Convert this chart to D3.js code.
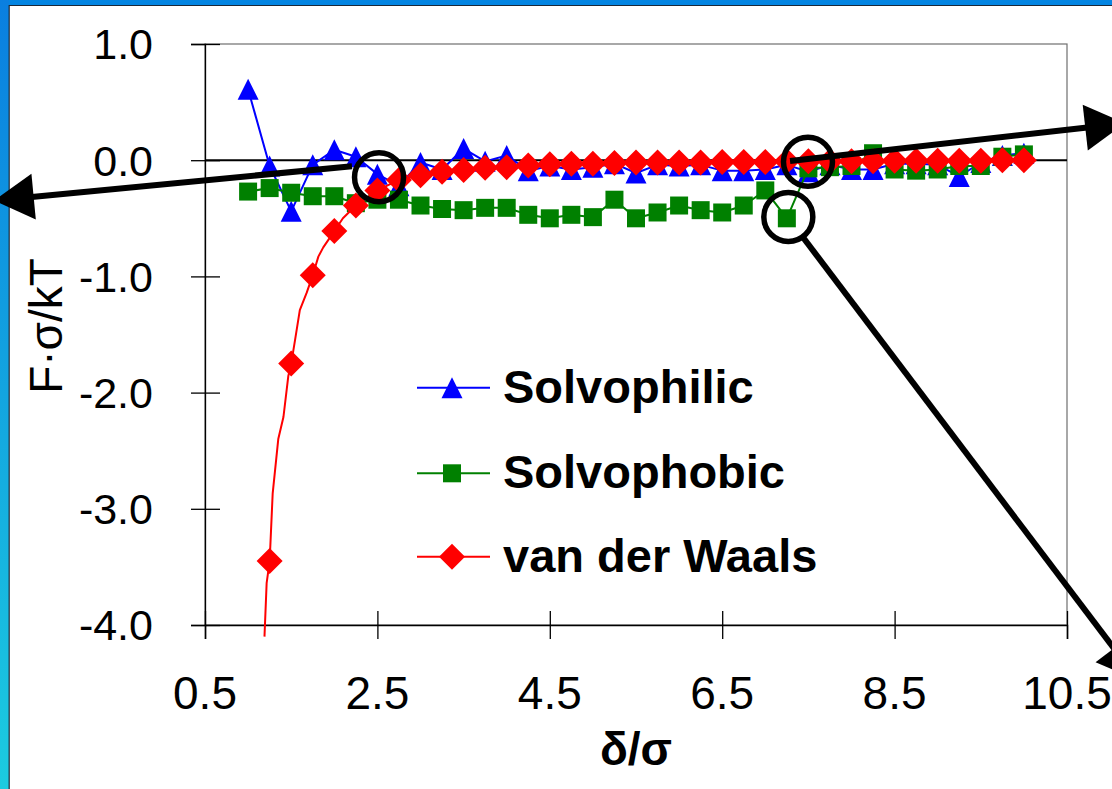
<!DOCTYPE html>
<html><head><meta charset="utf-8">
<script src="https://cdn.jsdelivr.net/npm/d3@7"></script>
<style>html,body{margin:0;padding:0;background:#fff;overflow:hidden} svg{display:block}</style>
</head><body><svg id="c" width="1112" height="789"></svg>
<script>
// ---- data ----
const xTicks = [0.5, 2.5, 4.5, 6.5, 8.5, 10.5];
const yTicks = [1.0, 0.0, -1.0, -2.0, -3.0, -4.0];
const seriesNames = ["Solvophilic", "Solvophobic", "van der Waals"];
const seriesColors = ["#0000ff", "#008000", "#ff0000"];

const philX = [1.0,1.25,1.5,1.75,2.0,2.25,2.5,2.75,3.0,3.25,3.5,3.75,4.0,4.25,4.5,4.75,5.0,5.25,5.5,5.75,6.0,6.25,6.5,6.75,7.0,7.25,7.5,7.75,8.0,8.25,8.5,8.75,9.0,9.25,9.5,9.75,10.0];
const philY = [0.61,-0.05,-0.44,-0.04,0.09,0.03,-0.12,-0.22,-0.02,-0.08,0.10,-0.01,0.04,-0.09,-0.05,-0.08,-0.06,-0.03,-0.11,-0.04,-0.05,-0.04,-0.09,-0.09,-0.08,-0.04,-0.10,-0.04,-0.08,-0.08,-0.03,-0.03,-0.04,-0.14,-0.02,0.04,0.06];

const phobX = [1.0,1.25,1.5,1.75,2.0,2.25,2.5,2.75,3.0,3.25,3.5,3.75,4.0,4.25,4.5,4.75,5.0,5.25,5.5,5.75,6.0,6.25,6.5,6.75,7.0,7.25,7.5,7.75,8.0,8.25,8.5,8.75,9.0,9.25,9.5,9.75,10.0];
const phobY = [-0.27,-0.24,-0.28,-0.31,-0.31,-0.37,-0.34,-0.34,-0.39,-0.42,-0.43,-0.41,-0.41,-0.47,-0.50,-0.47,-0.49,-0.34,-0.50,-0.45,-0.39,-0.43,-0.45,-0.39,-0.26,-0.50,-0.07,-0.06,-0.05,0.06,-0.08,-0.09,-0.08,-0.05,-0.05,0.03,0.05];

const vdwX = [1.25,1.5,1.75,2.0,2.25,2.5,2.75,3.0,3.25,3.5,3.75,4.0,4.25,4.5,4.75,5.0,5.25,5.5,5.75,6.0,6.25,6.5,6.75,7.0,7.25,7.5,7.75,8.0,8.25,8.5,8.75,9.0,9.25,9.5,9.75,10.0];
const vdwY = [-3.45,-1.75,-0.99,-0.61,-0.39,-0.26,-0.17,-0.13,-0.10,-0.085,-0.065,-0.06,-0.045,-0.035,-0.03,-0.03,-0.025,-0.02,-0.02,-0.02,-0.02,-0.015,-0.015,-0.015,-0.01,-0.01,-0.01,-0.01,-0.01,-0.005,-0.005,-0.005,-0.005,-0.005,0.0,0.0];
// finer curve drawn under the van der Waals markers
const vdwLineX = [1.19,1.215,1.25,1.285,1.35,1.41,1.466,1.5,1.544,1.60,1.68,1.75,1.815,1.872,2.0,2.1,2.25,2.5,2.75,3.0,3.25,3.5,3.75,4.0,4.25,4.5,4.75,5.0,5.25,5.5,5.75,6.0,6.25,6.5,6.75,7.0,7.25,7.5,7.75,8.0,8.25,8.5,8.75,9.0,9.25,9.5,9.75,10.0];
const vdwLineY = [-4.10,-3.64,-3.45,-2.87,-2.40,-2.21,-1.86,-1.75,-1.55,-1.29,-1.14,-0.99,-0.83,-0.75,-0.61,-0.50,-0.39,-0.26,-0.17,-0.13,-0.10,-0.085,-0.065,-0.06,-0.045,-0.035,-0.03,-0.03,-0.025,-0.02,-0.02,-0.02,-0.02,-0.015,-0.015,-0.015,-0.01,-0.01,-0.01,-0.01,-0.01,-0.005,-0.005,-0.005,-0.005,-0.005,0.0,0.0];

// annotation circles and arrows (data units)
const circleX = [2.519, 7.495, 7.267];
const circleY = [-0.146, -0.013, -0.488];
const arrowFromX = [2.205, 7.287, 7.437];
const arrowFromY = [-0.052, -0.006, -0.663];
const arrowToX = [-1.95, 11.173, 11.324];
const arrowToY = [-0.347, 0.318, -4.475];

// ---- drawing ----
const W = 1112, H = 789;
const svg = d3.select("#c");
const defs = svg.append("defs");
const g1 = defs.append("linearGradient").attr("id","lb").attr("x1",0).attr("y1",0).attr("x2",0).attr("y2",1);
g1.append("stop").attr("offset","0%").attr("stop-color","#0a7fe0");
g1.append("stop").attr("offset","100%").attr("stop-color","#1ccbe0");

svg.append("rect").attr("width",W).attr("height",H).attr("fill","#ffffff");
svg.append("rect").attr("x",0).attr("y",0).attr("width",W).attr("height",5).attr("fill","#0385e2");
svg.append("rect").attr("x",0).attr("y",0).attr("width",9).attr("height",H).attr("fill","url(#lb)");
svg.append("line").attr("x1",9).attr("x2",W).attr("y1",5.5).attr("y2",5.5).attr("stroke","#1b2838").attr("stroke-width",1.2);
svg.append("line").attr("x1",9.2).attr("x2",9.2).attr("y1",5).attr("y2",H).attr("stroke","#1b2838").attr("stroke-width",1.2);

const x = d3.scaleLinear().domain([0.5, 10.5]).range([205, 1067]);
const y = d3.scaleLinear().domain([-4, 1]).range([625, 44]);

const font = "'Liberation Sans', Arial, sans-serif";

// plot frame
svg.append("rect").attr("x",x(0.5)).attr("y",y(1)).attr("width",x(10.5)-x(0.5)).attr("height",y(-4)-y(1))
  .attr("fill","none").attr("stroke","#6f6f6f").attr("stroke-width",1.2);

// axes
const yAxis = svg.append("g").attr("transform",`translate(${x(0.5)},0)`)
  .call(d3.axisLeft(y).tickValues(yTicks).tickSize(14).tickFormat(""));
yAxis.select(".domain").attr("stroke","#000").attr("stroke-width",1.3);
yAxis.selectAll(".tick line").attr("x1",15).attr("stroke","#000").attr("stroke-width",1.3);

const xAxis = svg.append("g").attr("transform",`translate(0,${y(-4)})`)
  .call(d3.axisBottom(x).tickValues(xTicks).tickSize(14).tickFormat(""));
xAxis.select(".domain").attr("stroke","#000").attr("stroke-width",1.5);
xAxis.selectAll(".tick line").attr("y1",-14).attr("stroke","#000").attr("stroke-width",1.3);

// zero line
svg.append("line").attr("x1",x(0.5)).attr("x2",x(10.5)).attr("y1",y(0)).attr("y2",y(0))
  .attr("stroke","#000").attr("stroke-width",2);

// tick labels
svg.selectAll("text.yt").data(yTicks).join("text").attr("class","yt")
  .attr("x",153).attr("y",d=>y(d)).attr("dy","0.36em").attr("text-anchor","end")
  .attr("font-family",font).attr("font-size",43).attr("fill","#000")
  .text(d=>d.toFixed(1));
svg.selectAll("text.xt").data(xTicks).join("text").attr("class","xt")
  .attr("x",d=>x(d)).attr("y",709).attr("text-anchor","middle")
  .attr("font-family",font).attr("font-size",46).attr("fill","#000")
  .text(d=>d.toFixed(1));

// axis titles
svg.append("text").attr("x",636).attr("y",765).attr("text-anchor","middle")
  .attr("font-family",font).attr("font-weight","bold").attr("font-size",46).text("δ/σ");
svg.append("text").attr("transform","translate(62,326) rotate(-90)").attr("text-anchor","middle")
  .attr("font-family",font).attr("font-size",46).text("F·σ/kT");

// marker shapes
function tri(s){ const h=s; return `M0,${-h/2}L${s/2},${h/2}L${-s/2},${h/2}Z`; }
function sq(s){ return `M${-s/2},${-s/2}h${s}v${s}h${-s}Z`; }
function dia(s){ return `M0,${-s/2}L${s/2},0L0,${s/2}L${-s/2},0Z`; }
const shapes = [()=>tri(21), ()=>sq(18), ()=>dia(26)];

const line = d3.line().x(d=>x(d[0])).y(d=>y(d[1]));
const series = [
  {pts: d3.zip(philX, philY), linePts: d3.zip(philX, philY)},
  {pts: d3.zip(phobX, phobY), linePts: d3.zip(phobX, phobY)},
  {pts: d3.zip(vdwX, vdwY), linePts: d3.zip(vdwLineX, vdwLineY)}
];
series.forEach((s,i)=>{
  const g = svg.append("g");
  g.append("path").attr("d", line(s.linePts)).attr("fill","none")
    .attr("stroke", seriesColors[i]).attr("stroke-width", 2).attr("stroke-linejoin","round");
  g.selectAll("path.m").data(s.pts).join("path").attr("class","m")
    .attr("transform", d=>`translate(${x(d[0])},${y(d[1])})`)
    .attr("d", shapes[i]()).attr("fill", seriesColors[i]);
});

// legend
const legY = [387.7, 473.3, 556.7];
seriesNames.forEach((n,i)=>{
  const g = svg.append("g");
  g.append("line").attr("x1",417).attr("x2",490).attr("y1",legY[i]).attr("y2",legY[i])
    .attr("stroke",seriesColors[i]).attr("stroke-width",2);
  g.append("path").attr("transform",`translate(452,${legY[i]})`).attr("d",shapes[i]()).attr("fill",seriesColors[i]);
  g.append("text").attr("x",503).attr("y",legY[i]+15).attr("font-family",font).attr("font-weight","bold")
    .attr("font-size",47).attr("fill","#000").text(n);
});

// annotations
const ann = svg.append("g");
circleX.forEach((cx,i)=>{
  ann.append("circle").attr("cx",x(cx)).attr("cy",y(circleY[i])).attr("r",24.5)
    .attr("fill","none").attr("stroke","#000").attr("stroke-width",5.5);
});
arrowFromX.forEach((fx,i)=>{
  const x0=x(fx), y0=y(arrowFromY[i]), x1=x(arrowToX[i]), y1=y(arrowToY[i]);
  const dx=x1-x0, dy=y1-y0, L=Math.hypot(dx,dy), ux=dx/L, uy=dy/L;
  const hl=40, hw=23;
  const bx=x1-ux*hl, by=y1-uy*hl;
  ann.append("line").attr("x1",x0).attr("y1",y0).attr("x2",bx+ux*2).attr("y2",by+uy*2)
    .attr("stroke","#000").attr("stroke-width",6);
  ann.append("path").attr("d",`M${x1},${y1}L${bx-uy*hw},${by+ux*hw}L${bx+uy*hw},${by-ux*hw}Z`).attr("fill","#000");
});
</script></body></html>
